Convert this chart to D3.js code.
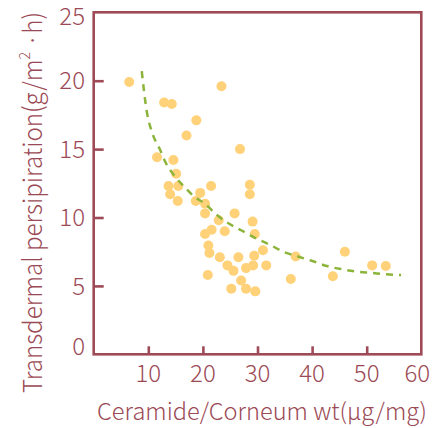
<!DOCTYPE html>
<html>
<head>
<meta charset="utf-8">
<script src="https://cdn.jsdelivr.net/npm/d3@7"></script>
<style>
  html, body { margin: 0; padding: 0; background: #fff; }
  svg { display: block; }
  text { font-family: "Noto Sans CJK JP", "Noto Sans", sans-serif; font-weight: 300; }
</style>
</head>
<body>
<svg id="chart" width="446" height="428"></svg>
<script>
// Scatter data (ceramide µg/mg vs transdermal perspiration g/m²·h)
const pointX = [6.5, 23.4, 12.9, 14.3, 18.8, 17.0, 26.8, 11.6, 14.6, 15.1,
                13.7, 15.5, 21.5, 28.6, 14.0, 19.5, 28.6, 15.4, 18.7, 20.4,
                20.4, 25.8, 22.9, 29.1, 21.6, 24.0, 20.4, 29.5, 21.0, 21.2,
                31.0, 23.1, 26.5, 29.4, 37.0, 46.0, 24.5, 25.6, 27.9, 29.2,
                31.6, 51.0, 53.5, 20.9, 27.0, 36.1, 43.8, 25.2, 27.9, 29.6];
const pointY = [19.9, 19.6, 18.4, 18.3, 17.1, 16.0, 15.0, 14.4, 14.2, 13.2,
                12.3, 12.3, 12.3, 12.4, 11.7, 11.8, 11.7, 11.2, 11.2, 11.0,
                10.3, 10.3, 9.8, 9.7, 9.1, 9.0, 8.8, 8.8, 7.95, 7.4,
                7.6, 7.1, 7.1, 7.2, 7.15, 7.5, 6.5, 6.1, 6.3, 6.5,
                6.5, 6.5, 6.45, 5.8, 5.4, 5.5, 5.7, 4.8, 4.8, 4.6];

// Trend line
const trendX = [8.8, 9.7, 10.8, 12.1, 13.2, 14.9, 16.7, 18.2, 20.4, 22.5, 24.6, 27.1,
                29.6, 32.3, 34.7, 37.4, 40.2, 42.7, 45.7, 48.1, 50.9, 53.6, 56.3];
const trendY = [20.7, 17.8, 16.1, 15.0, 14.0, 13.0, 12.2, 11.6, 11.0, 10.2, 9.6, 9.05,
                8.5, 8.0, 7.5, 7.15, 6.8, 6.45, 6.2, 6.05, 5.95, 5.85, 5.8];

const xTicks = [10, 20, 30, 40, 50, 60];
const yTicks = [0, 5, 10, 15, 20, 25];
const xTitle = "Ceramide/Corneum wt(μg/mg)";

const frameColor = "#9e4a57";
const textColor = "#9b4a55";
const dotColor = "#ffd27a";
const trendColor = "#8cb43a";

const svg = d3.select("#chart");
const L = 93.7, R = 421.3, T = 12.3, B = 354.3;

const x = d3.scaleLinear().domain([0, 60]).range([L, R]);
const y = d3.scaleLinear().domain([0, 25]).range([B, T]);

// Dots
svg.append("g").selectAll("circle")
  .data(pointX.map((v, i) => [v, pointY[i]]))
  .join("circle")
  .attr("cx", d => x(d[0]))
  .attr("cy", d => y(d[1]))
  .attr("r", 5)
  .attr("fill", dotColor);

// Trend line
svg.append("path")
  .datum(trendX.map((v, i) => [v, trendY[i]]))
  .attr("fill", "none")
  .attr("stroke", trendColor)
  .attr("stroke-width", 2.5)
  .attr("stroke-dasharray", "7,6")
  .attr("d", d3.line().x(d => x(d[0])).y(d => y(d[1])).curve(d3.curveMonotoneX));

// Frame
svg.append("rect")
  .attr("x", L).attr("y", T)
  .attr("width", R - L).attr("height", B - T)
  .attr("fill", "none")
  .attr("stroke", frameColor)
  .attr("stroke-width", 2.6);

// Axes with inward ticks
const yAxis = svg.append("g")
  .attr("transform", `translate(${L},0)`)
  .call(d3.axisRight(y).tickValues(yTicks.filter(v => v > 0 && v < 25)).tickSize(10).tickFormat(""));
yAxis.select(".domain").remove();
yAxis.selectAll("line").attr("stroke", frameColor).attr("stroke-width", 2.6);

const xAxis = svg.append("g")
  .attr("transform", `translate(0,${B})`)
  .call(d3.axisTop(x).tickValues(xTicks.filter(v => v < 60)).tickSize(8).tickFormat(""));
xAxis.select(".domain").remove();
xAxis.selectAll("line").attr("stroke", frameColor).attr("stroke-width", 2.6);

// Y tick labels
svg.append("g").selectAll("text")
  .data(yTicks)
  .join("text")
  .attr("x", 85)
  .attr("y", d => y(d) + (d === 0 ? -8 : d === 25 ? 4 : 0))
  .attr("dy", "0.36em")
  .attr("text-anchor", "end")
  .attr("font-size", 24)
  .attr("fill", textColor)
  .text(d => d);

// X tick labels
svg.append("g").selectAll("text")
  .data(xTicks)
  .join("text")
  .attr("x", d => x(d) - (d === 60 ? 4 : 0))
  .attr("y", 382)
  .attr("text-anchor", "middle")
  .attr("font-size", 24)
  .attr("fill", textColor)
  .text(d => d);

// X title
svg.append("text")
  .attr("x", 97)
  .attr("y", 420)
  .attr("font-size", 23)
  .attr("fill", textColor)
  .attr("textLength", 330)
  .attr("lengthAdjust", "spacingAndGlyphs")
  .text(xTitle);

// Y title
const yt = svg.append("text")
  .attr("transform", "translate(42,393) rotate(-90)")
  .attr("x", 0).attr("y", 0)
  .attr("font-size", 26)
  .attr("fill", textColor)
  .attr("textLength", 381)
  .attr("lengthAdjust", "spacingAndGlyphs");
yt.append("tspan").text("Transdermal persipiration(g/m");
yt.append("tspan").attr("font-size", 15).attr("dy", -12).text("2");
yt.append("tspan").attr("dy", 12).text(" ·h)");
</script>
</body>
</html>
